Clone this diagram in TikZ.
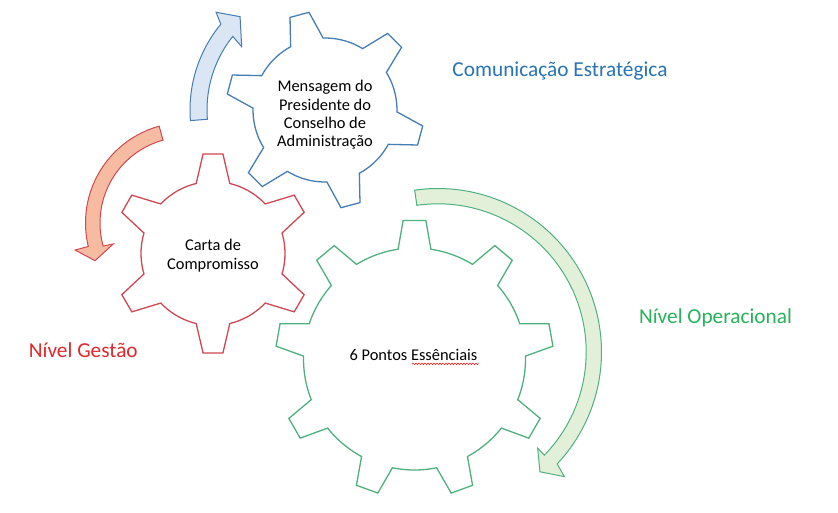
\documentclass[tikz,border=0pt]{standalone}
\usepackage{fontspec}
\setmainfont{Carlito}
\usetikzlibrary{decorations.pathmorphing}
\definecolor{gblue}{RGB}{70,125,180}
\definecolor{fblue}{RGB}{218,230,243}
\definecolor{gred}{RGB}{208,72,82}
\definecolor{fred}{RGB}{246,187,160}
\definecolor{ggreen}{RGB}{80,176,128}
\definecolor{fgreen}{RGB}{226,240,218}
\definecolor{tblue}{RGB}{40,116,180}
\definecolor{tred}{RGB}{226,40,45}
\definecolor{tgreen}{RGB}{40,178,90}

\newcommand\mygear[9]{%
  \pgfmathsetmacro\gD{360/#5}%
  \pgfmathtruncatemacro\gN{#5-1}%
  \draw[#9] ({#1+#4*cos(#6-#8)},{#2+#4*sin(#6-#8)})
    \foreach \i in {0,...,\gN}{
      -- ({#1+#3*cos(#6+\i*\gD-#7)},{#2+#3*sin(#6+\i*\gD-#7)})
      -- ({#1+#3*cos(#6+\i*\gD+#7)},{#2+#3*sin(#6+\i*\gD+#7)})
      -- ({#1+#4*cos(#6+\i*\gD+#8)},{#2+#4*sin(#6+\i*\gD+#8)})
      \foreach \k in {1,...,10}{
        -- ({#1+#4*cos(#6+\i*\gD+#8+\k*(\gD-2*#8)/10)},{#2+#4*sin(#6+\i*\gD+#8+\k*(\gD-2*#8)/10)})
      }
    } -- cycle;
}

\tikzset{
  gearline/.style={line width=1.3pt, line join=miter, fill=white},
  arrowline/.style={line width=1pt, line join=miter},
  geartext/.style={font=\fontsize{16.4}{18.3}\selectfont, align=center, inner sep=0pt, text=black},
  labeltext/.style={font=\fontsize{21.3}{25}\selectfont, anchor=base, inner sep=0pt},
}

\begin{document}
\begin{tikzpicture}[x=1pt,y=-1pt]
\useasboundingbox (0,0) rectangle (838,512);
\fill[white] (0,0) rectangle (838,512);

% gears
\mygear{414.5}{359}{139}{111}{9}{-90}{4.7}{8.5}{gearline, draw=ggreen}
\mygear{213}{253.5}{100}{72}{6}{-90}{5.7}{13.5}{gearline, draw=gred}
\mygear{325}{110}{99}{72}{6}{255}{5.7}{13.5}{gearline, draw=gblue}

% blue arrow
\coordinate (bwo) at ({325+146.4*cos(221.9)},{110+146.4*sin(221.9)});
\coordinate (btip) at ({325+126.2*cos(227.7)},{110+126.2*sin(227.7)});
\coordinate (bwi) at ({325+104.6*cos(217.2)},{110+104.6*sin(217.2)});
\draw[arrowline, draw=gblue, fill=fblue]
  plot[domain=175.5:219.5,samples=40] ({325+135*cos(\x)},{110+135*sin(\x)})
  -- (bwo) -- (btip) -- (bwi)
  -- plot[domain=218.6:175.5,samples=40] ({325+118*cos(\x)},{110+118*sin(\x)}) -- cycle;

% red arrow
\coordinate (rwo) at ({186+114.2*cos(166.3)},{223+114.2*sin(166.3)});
\coordinate (rtip) at ({186+98.5*cos(157.5)},{223+98.5*sin(157.5)});
\coordinate (rwi) at ({186+75.7*cos(163.9)},{223+75.7*sin(163.9)});
\draw[arrowline, draw=gred, fill=fred]
  plot[domain=254.5:166.5,samples=40] ({186+100.5*cos(\x)},{223+100.5*sin(\x)})
  -- (rwo) -- (rtip) -- (rwi)
  -- plot[domain=164.5:254.5,samples=40] ({186+86*cos(\x)},{223+86*sin(\x)}) -- cycle;

% green arrow
\coordinate (gwo) at ({438+177.5*cos(44.6)},{352+177.5*sin(44.6)});
\coordinate (gtip) at ({438+157.3*cos(49.6)},{352+157.3*sin(49.6)});
\coordinate (gwi) at ({438+138.6*cos(44)},{352+138.6*sin(44)});
\draw[arrowline, draw=ggreen, fill=fgreen]
  plot[domain=-98.2:43.2,samples=80] ({438+163.5*cos(\x)},{352+163.5*sin(\x)})
  -- (gwo) -- (gtip) -- (gwi)
  -- plot[domain=44.1:-98.2,samples=80] ({438+148.2*cos(\x)},{352+148.2*sin(\x)}) -- cycle;

% gear texts
\node[geartext] (tmsg) at (325,115) {Mensagem do\\Presidente do\\Conselho de\\Administração};
\node[geartext] (tcarta) at (213,255.5) {Carta de\\Compromisso};
\node[geartext, anchor=base] (tpontos) at (413.5,360) {6 Pontos Essênciais};
\draw[red, line width=0.5pt, decorate, decoration={snake, amplitude=0.8pt, segment length=3pt}]
  (412,363.8) -- (479,363.8);

% labels
\node[labeltext, text=tblue] (lcom) at (560,76) {Comunicação Estratégica};
\node[labeltext, text=tred] (lges) at (83.3,357.5) {Nível Gestão};
\node[labeltext, text=tgreen] (lope) at (715.5,323.5) {Nível Operacional};
\end{tikzpicture}
\end{document}
